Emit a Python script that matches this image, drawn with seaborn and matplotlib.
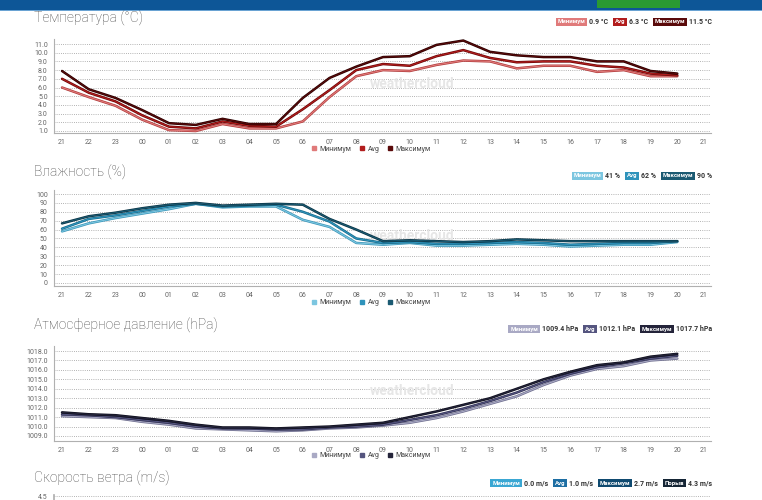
# weather_panels.py
# Hourly min / avg / max panels from a weather station page, redrawn with seaborn.

import pandas as pd
import matplotlib
matplotlib.use("Agg")
import matplotlib.pyplot as plt
import matplotlib.patheffects as pe
from matplotlib.lines import Line2D
from matplotlib.patches import Rectangle
import seaborn as sns

W, H = 762, 500

hours = ["21", "22", "23", "00", "01", "02", "03", "04", "05", "06", "07", "08",
         "09", "10", "11", "12", "13", "14", "15", "16", "17", "18", "19", "20"]
tick_labels = hours + ["21"]
series_names = ["Минимум", "Avg", "Максимум"]

temp_min = [6.0, 4.9, 3.9, 2.3, 1.1, 1.0, 1.8, 1.3, 1.3, 2.1, 4.9, 7.3,
            8.0, 7.9, 8.6, 9.1, 9.0, 8.2, 8.5, 8.5, 7.8, 8.0, 7.3, 7.3]
temp_avg = [7.0, 5.4, 4.4, 2.8, 1.5, 1.3, 2.1, 1.6, 1.5, 3.5, 5.7, 8.0,
            8.7, 8.5, 9.6, 10.3, 9.4, 8.9, 9.0, 9.0, 8.5, 8.3, 7.6, 7.4]
temp_max = [7.9, 5.8, 4.8, 3.4, 1.9, 1.7, 2.4, 1.8, 1.8, 4.8, 7.1, 8.4,
            9.5, 9.6, 10.9, 11.4, 10.1, 9.7, 9.5, 9.5, 9.0, 9.0, 7.9, 7.6]

hum_min = [58, 67, 73, 78, 83, 89, 85, 86, 86, 71, 63, 45,
           43, 45, 42, 42, 43, 44, 43, 41, 42, 43, 43, 46]
hum_avg = [61, 72, 76, 81, 86, 89, 86, 87, 88, 80, 69, 50,
           45, 46, 44, 44, 45, 46, 45, 43, 44, 45, 45, 47]
hum_max = [67, 75, 79, 84, 88, 90, 87, 88, 89, 88, 72, 60,
           47, 48, 47, 46, 47, 49, 48, 47, 47, 47, 47, 47]

pres_min = [1011.1, 1011.0, 1010.9, 1010.5, 1010.2, 1009.8, 1009.7, 1009.6, 1009.5, 1009.6, 1009.8, 1009.9,
            1010.1, 1010.4, 1010.9, 1011.6, 1012.4, 1013.2, 1014.4, 1015.4, 1016.1, 1016.4, 1017.0, 1017.2]
pres_avg = [1011.3, 1011.2, 1011.0, 1010.7, 1010.4, 1010.0, 1009.8, 1009.8, 1009.7, 1009.7, 1009.9, 1010.0,
            1010.2, 1010.7, 1011.2, 1011.9, 1012.7, 1013.6, 1014.7, 1015.6, 1016.3, 1016.7, 1017.2, 1017.5]
pres_max = [1011.5, 1011.3, 1011.2, 1010.9, 1010.6, 1010.2, 1009.9, 1009.9, 1009.8, 1009.9, 1010.0, 1010.2,
            1010.4, 1011.0, 1011.6, 1012.3, 1013.0, 1014.0, 1015.0, 1015.8, 1016.5, 1016.8, 1017.4, 1017.7]

# badge texts (label, value)
temp_badges = [("Минимум", "0.9 °C"), ("Avg", "6.3 °C"), ("Максимум", "11.5 °C")]
hum_badges = [("Минимум", "41 %"), ("Avg", "62 %"), ("Максимум", "90 %")]
pres_badges = [("Минимум", "1009.4 hPa"), ("Avg", "1012.1 hPa"), ("Максимум", "1017.7 hPa")]
wind_badges = [("Минимум", "0.0 m/s"), ("Avg", "1.0 m/s"), ("Максимум", "2.7 m/s"), ("Порыв", "4.3 m/s")]

# colours: (core, edge) per series
temp_colors = [("#e07a7a", "#b03a3a"), ("#b21d1d", "#6a0606"), ("#5a0a0a", "#2a0000")]
hum_colors = [("#7cc6e0", "#3a95b8"), ("#2f93bb", "#166a8a"), ("#1b5a72", "#0a3344")]
pres_colors = [("#a9a9c4", "#6c6c8c"), ("#55557f", "#2e2e52"), ("#24243a", "#0e0e1c")]
wind_colors = ["#3aa7d3", "#1d6ea3", "#0f4a70", "#152535"]


def to_long(values):
    rows = []
    for name, vals in zip(series_names, values):
        for i, v in enumerate(vals):
            rows.append({"x": i, "value": v, "series": name})
    return pd.DataFrame(rows)


def fig_y(px):
    return 1 - px / H


def style_axis(ax, ylim, yticks, fmt):
    ax.set_xlim(-0.3, 24.26)
    ax.set_ylim(*ylim)
    ax.set_xticks(range(len(tick_labels)))
    ax.set_xticklabels(tick_labels)
    ax.set_yticks(yticks)
    ax.set_yticklabels([fmt.format(t) for t in yticks])
    ax.set_xlabel("")
    ax.set_ylabel("")
    for side in ["top", "right"]:
        ax.spines[side].set_visible(False)
    for side in ["left", "bottom"]:
        ax.spines[side].set_color("#b0b0b0")
        ax.spines[side].set_linewidth(0.8)
    ax.tick_params(axis="both", labelsize=5, colors="#666666", length=2.5, width=0.6,
                   pad=2, direction="out")
    ax.tick_params(axis="both", color="#b0b0b0")
    ax.yaxis.grid(True, linestyle=(0, (1, 1.6)), color="#9a9a9a", linewidth=0.6)
    ax.xaxis.grid(False)
    ax.set_axisbelow(True)


def plot_panel(ax, values, colors, ylim, yticks, fmt, legend_x, legend_y):
    df = to_long(values)
    palette = {n: c[0] for n, c in zip(series_names, colors)}
    sns.lineplot(data=df, x="x", y="value", hue="series", palette=palette,
                 hue_order=series_names, linewidth=0.8, legend=False, ax=ax, zorder=3)
    for line, (core, edge) in zip(ax.lines, colors):
        line.set_path_effects([pe.Stroke(linewidth=1.8, foreground=edge), pe.Normal()])
    style_axis(ax, ylim, yticks, fmt)
    ax.text(0.545, 0.52, "weathercloud", transform=ax.transAxes, ha="center", va="center",
            fontsize=10, color="#e6e6e6", fontweight="bold", zorder=1)
    handles = [Line2D([], [], marker="s", linestyle="none", markersize=3.5,
                      markerfacecolor=c[0], markeredgecolor=c[0]) for c in colors]
    ax.legend(handles, series_names, loc="center", bbox_to_anchor=(legend_x, legend_y),
              ncol=3, frameon=False, fontsize=5, handlelength=0.6, handletextpad=0.5,
              columnspacing=1.2, labelcolor="#444444")


def draw_badges(fig, renderer, y_px, items, colors, right_px=712):
    x = right_px
    for (label, value), color in reversed(list(zip(items, colors))):
        t = fig.text(x / W, fig_y(y_px), value, ha="right", va="center",
                     fontsize=5, color="#333333", fontweight="bold")
        x -= t.get_window_extent(renderer).width + 3.5
        b = fig.text(x / W, fig_y(y_px), label, ha="right", va="center", fontsize=4.3,
                     color="white", fontweight="bold",
                     bbox=dict(boxstyle="square,pad=0.3", fc=color, ec="none"))
        x -= b.get_window_extent(renderer).width + 7


def main():
    sns.set_theme(style="white")
    plt.rcParams["font.family"] = ["Roboto", "DejaVu Sans"]

    fig = plt.figure(figsize=(W / 100, H / 100), dpi=100)
    fig.patch.set_facecolor("white")

    # page header strip
    fig.patches.append(Rectangle((0, fig_y(10)), 1, 10 / H, transform=fig.transFigure,
                                 facecolor="#0d5697", edgecolor="none"))
    fig.patches.append(Rectangle((0, fig_y(11)), 1, 1 / H, transform=fig.transFigure,
                                 facecolor="#6aa3d3", edgecolor="none"))
    fig.patches.append(Rectangle((597 / W, fig_y(8)), 83 / W, 8 / H, transform=fig.transFigure,
                                 facecolor="#2a9a32", edgecolor="none"))

    left, width = 54 / W, 657 / W
    ax_t = fig.add_axes([left, fig_y(133), width, 94.2 / H])
    ax_h = fig.add_axes([left, fig_y(286), width, 96 / H])
    ax_p = fig.add_axes([left, fig_y(440.7), width, 94.7 / H])
    ax_w = fig.add_axes([left, fig_y(600), width, 105 / H])

    plot_panel(ax_t, [temp_min, temp_avg, temp_max], temp_colors, (0.77, 11.6),
               [1.0 + i for i in range(11)], "{:.1f}", 0.483, -0.17)
    plot_panel(ax_h, [hum_min, hum_avg, hum_max], hum_colors, (-3.4, 104.5),
               list(range(0, 101, 10)), "{:d}", 0.483, -0.177)
    plot_panel(ax_p, [pres_min, pres_avg, pres_max], pres_colors, (1008.5, 1018.53),
               [1009.0 + i for i in range(10)], "{:.1f}", 0.483, -0.16)

    # wind panel: only its top edge is visible
    ax_w.set_xlim(-0.3, 24.26)
    ax_w.set_ylim(0, 4.55)
    ax_w.set_yticks([4.5])
    ax_w.set_yticklabels(["4.5"])
    ax_w.set_xticks([])
    for side in ["top", "right", "bottom"]:
        ax_w.spines[side].set_visible(False)
    ax_w.spines["left"].set_color("#b0b0b0")
    ax_w.tick_params(axis="y", labelsize=5, colors="#666666", length=2.5, pad=2)
    ax_w.yaxis.grid(True, linestyle=(0, (1, 1.6)), color="#9a9a9a", linewidth=0.6)

    titles = [("Температура (°C)", 18), ("Влажность (%)", 172), ("Атмосферное давление (hPa)", 325),
              ("Скорость ветра (m/s)", 478)]
    for text, y in titles:
        fig.text(34 / W, fig_y(y), text, ha="left", va="center", fontsize=10,
                 color="#4a4a4a", fontweight="light")

    fig.canvas.draw()
    renderer = fig.canvas.get_renderer()
    draw_badges(fig, renderer, 22, temp_badges, [c[0] for c in temp_colors])
    draw_badges(fig, renderer, 176, hum_badges, [c[0] for c in hum_colors])
    draw_badges(fig, renderer, 329, pres_badges, [c[0] for c in pres_colors])
    draw_badges(fig, renderer, 483, wind_badges, wind_colors)

    fig.savefig("out.png", dpi=100)


if __name__ == "__main__":
    main()
